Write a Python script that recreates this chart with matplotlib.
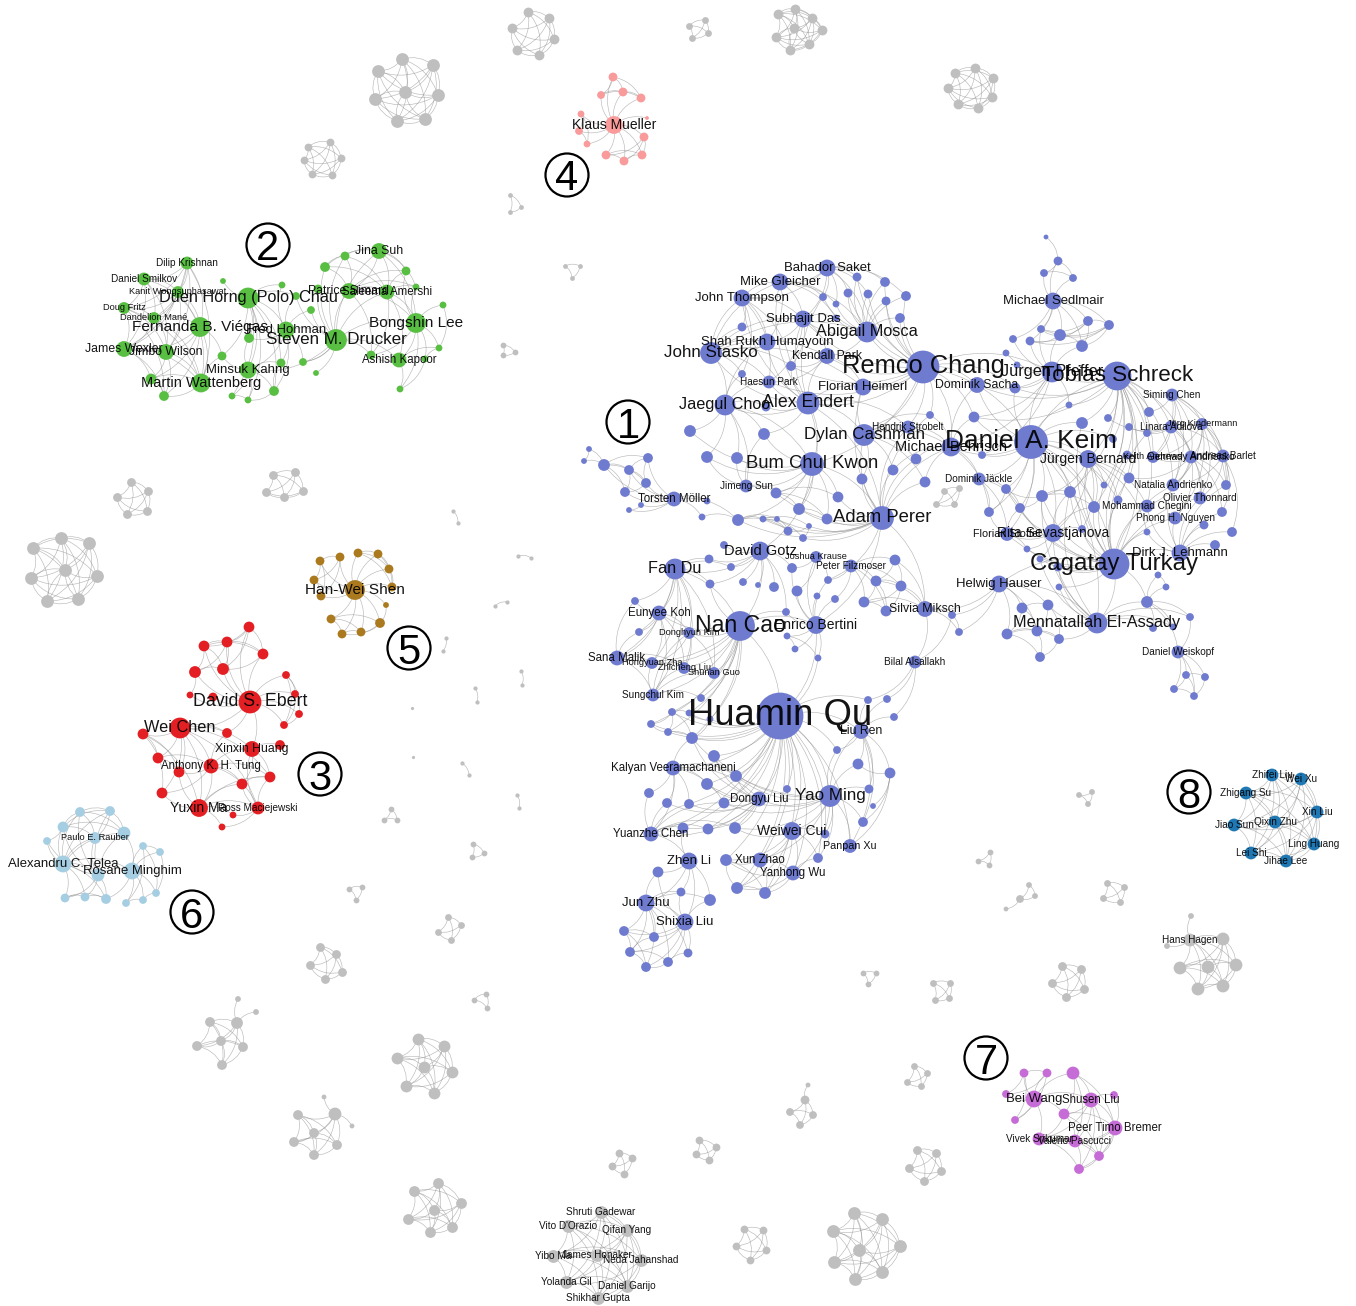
#!/usr/bin/env python3
"""Co-authorship network with numbered communities."""

from itertools import combinations

import matplotlib
matplotlib.use('Agg')
import matplotlib.pyplot as plt
from matplotlib.collections import PathCollection
from matplotlib.patches import Circle
from matplotlib.path import Path

plt.rcParams['font.family'] = ['Liberation Sans', 'DejaVu Sans']

MAIN = '#6f7bcf'
GRAY = '#bfbfbf'

# community 1, split in neighbourhoods
top_x = [827, 780, 742, 803, 867, 767, 711, 827, 923, 769, 863, 725, 808, 864, 908, 812, 746, 882,
         857, 885, 848, 868, 823, 836, 886, 906, 900, 836, 742, 791, 742, 766, 690, 764, 707, 737,
         930, 916, 893, 862, 925, 776, 838, 799, 827, 738]
top_y = [268, 282, 298, 319, 332, 342, 353, 356, 367, 382, 387, 405, 403, 435, 427, 464, 486, 518,
         277, 282, 293, 294, 297, 304, 301, 296, 318, 318, 327, 366, 374, 407, 431, 434, 457, 458,
         415, 459, 470, 479, 482, 493, 497, 509, 519, 520]
top_r = [8, 8, 8, 8, 10, 8, 10.5, 7.5, 16, 6, 8, 10, 11, 10.5, 6, 11.5, 6, 11.5,
         4, 4.5, 4, 4, 3.5, 3, 4, 4.5, 4.5, 3, 4, 4.5, 3.5, 4, 5.5, 5.5, 5.5, 5.5,
         3.5, 5, 5, 5, 5, 5, 5, 5.5, 5, 5.5]
top_names = {0: 'Bahador Saket', 1: 'Mike Gleicher', 2: 'John Thompson', 3: 'Subhajit Das',
             4: 'Abigail Mosca', 5: 'Shah Rukh Humayoun', 6: 'John Stasko', 7: 'Kendall Park',
             8: 'Remco Chang', 9: 'Haesun Park', 10: 'Florian Heimerl', 11: 'Jaegul Choo',
             12: 'Alex Endert', 13: 'Dylan Cashman', 14: 'Hendrik Strobelt', 15: 'Bum Chul Kwon',
             16: 'Jimeng Sun', 17: 'Adam Perer'}
top_links = {8: [4, 7, 10, 12, 13, 14, 19, 21, 24, 25, 26, 20, 18, 3, 29, 9, 36, 15],
             12: [1, 2, 3, 5, 6, 7, 9, 10, 11, 13, 15, 29, 31, 33, 14, 17, 43, 22],
             6: [1, 2, 3, 5, 9, 10, 28, 29, 30, 11, 7, 4],
             0: [1, 2, 3, 4, 22, 23, 18, 20, 25, 19, 21],
             4: [3, 7, 18, 19, 20, 21, 22, 24, 25, 26, 23, 27],
             2: [1, 3, 5, 28, 29, 30, 9],
             1: [3, 4, 5, 22, 23, 27],
             11: [32, 33, 34, 35, 15, 9, 31, 30, 5, 16],
             15: [32, 33, 34, 35, 41, 42, 43, 16, 44, 17, 45],
             17: [13, 37, 38, 39, 40, 41, 42, 43, 44, 45, 14, 36, 10],
             13: [10, 14, 36, 37, 38, 39, 40],
             16: [33, 34, 35, 41],
             41: [43, 44, 42],
             43: [44],
             3: [5, 7, 27, 29, 9],
             7: [29, 10, 9]}

dak_x = [1031, 1117, 1114, 951, 1052, 977, 1015, 1069, 974, 1172, 1149, 1082, 1108, 1129, 1147, 1171,
         1202, 1113, 982, 1088, 1153, 1191, 1223, 1129, 1104, 1173, 1226, 979, 1006, 1042, 1070, 1200,
         1147, 1118, 1094, 989, 1020, 1175, 1222, 1204, 1232, 1147, 1007, 1053, 1082, 1215, 1027, 1180,
         1040, 1058, 1097, 1059, 1158, 1166, 1147, 1190, 1153, 1173, 1127]
dak_y = [442, 376, 564, 447, 372, 385, 388, 405, 417, 395, 412, 423, 418, 427, 433, 427,
         424, 439, 455, 459, 457, 457, 456, 478, 485, 485, 485, 479, 489, 496, 492, 498,
         506, 500, 507, 512, 508, 518, 512, 525, 532, 532, 534, 533, 529, 545, 549, 553,
         559, 567, 623, 587, 575, 587, 602, 617, 628, 627, 455]
dak_r = [16.5, 14, 15, 9, 10, 7.5, 5, 3, 5, 6, 4.5, 5.5, 3.5, 3.5, 3.5, 6,
         5.5, 3.5, 3.5, 8.5, 5.5, 6, 6, 5, 3, 6, 4.5, 6, 4.5, 5.5, 5.5, 6,
         6, 4, 5.5, 4.5, 4.5, 6, 4.5, 4, 4.5, 3, 6.5, 8.5, 3.5, 4.5, 3, 8,
         3, 4, 10, 3, 3, 3, 5.5, 3.5, 3.5, 3, 4]
dak_names = {0: 'Daniel A. Keim', 1: 'Tobias Schreck', 2: 'Cagatay Turkay', 3: 'Michael Behrisch',
             4: 'Jürgen Pfeffer', 5: 'Dominik Sacha', 9: 'Siming Chen', 15: 'Linara Adilova',
             16: 'Jörg Kindermann', 19: 'Jürgen Bernard', 20: 'Keith Andrews', 21: 'Gennady Andrienko',
             22: 'Andreas Barlet', 25: 'Natalia Andrienko', 27: 'Dominik Jäckle', 31: 'Olivier Thonnard',
             32: 'Mohammad Chegini', 37: 'Phong H. Nguyen', 42: 'Florian Stoffel', 43: 'Rita Sevastjanova',
             47: 'Dirk J. Lehmann', 50: 'Mennatallah El-Assady'}
dak_links = {0: [1, 2, 3, 4, 5, 6, 8, 18, 19, 27, 28, 29, 30, 34, 33, 35, 36, 42, 43, 44, 11, 17, 24, 7, 50],
             1: [2, 4, 5, 6, 7, 8, 11, 12, 10, 14, 15, 19, 20, 21, 23, 25, 32, 30, 34, 17, 33, 24, 58],
             2: [19, 23, 24, 29, 30, 32, 33, 34, 37, 41, 42, 43, 44, 47, 46, 48, 49, 50, 51, 25, 31, 36, 28, 11, 54, 14, 58],
             4: [5, 6, 7, 8, 3, 18],
             3: [5, 8, 18, 27, 35],
             9: [10, 15, 16, 20, 21, 22, 25, 26],
             16: [20, 21, 22, 25, 26, 15, 31, 37],
             15: [20, 21, 22, 25, 31, 13, 12, 14],
             19: [23, 24, 29, 30, 33, 34, 43, 44, 32, 41],
             21: [22, 25, 31, 32, 37, 23, 20, 26, 38],
             47: [37, 38, 39, 40, 45, 31, 25, 26, 32, 41],
             22: [26, 31, 38, 40, 25],
             43: [29, 30, 34, 36, 42, 44, 46, 48],
             50: [49, 51, 54, 48, 55, 56, 57, 43, 29, 30],
             54: [52, 53, 55, 56, 57],
             52: [53],
             29: [30, 34, 28, 36],
             27: [28, 35, 36, 42],
             28: [35, 36],
             42: [35, 36, 46]}

sed_x = [1053, 1046, 1058, 1044, 1073, 1088, 1109, 1041, 1013, 1030, 1060, 1082, 1006, 1017]
sed_y = [301, 237, 261, 273, 278, 321, 325, 329, 339, 341, 335, 346, 353, 365]
sed_r = [8, 2, 4, 3.5, 3.5, 4.5, 4.5, 3.5, 3.5, 4, 5.5, 5.5, 3, 3]
sed_names = {0: 'Michael Sedlmair'}
sed_links = {0: [2, 3, 4, 5, 6, 7, 8, 9, 10, 11], 1: [2], 2: [3, 4], 3: [4],
             5: [6, 10, 9, 7, 11], 6: [10, 11, 9, 7], 10: [9, 11, 7]}

tail_x = [674, 589, 584, 604, 629, 648, 646, 625, 707, 641, 629, 702]
tail_y = [499, 449, 461, 465, 470, 458, 483, 492, 501, 505, 510, 517]
tail_r = [7, 2.5, 2.5, 5.5, 4.5, 4.5, 4.5, 4.5, 3, 2.5, 2.5, 3]
tail_names = {0: 'Torsten Möller'}
tail_links = {0: [3, 4, 5, 6, 7, 8, 9, 10, 11], 1: [2, 3], 2: [3], 3: [4, 5, 6, 7],
              4: [5, 6, 7], 6: [5, 7], 9: [10]}

mid_x = [760, 724, 709, 675, 731, 743, 710, 758, 774, 816, 792, 851, 895, 828, 797, 817, 835, 876, 901,
         864, 886, 925, 952, 959, 635, 659, 786, 740, 816, 639, 689, 787, 795, 818, 617, 652, 684, 714,
         653, 701, 915, 763, 777, 809, 788, 803]
mid_y = [551, 545, 559, 569, 567, 582, 584, 585, 587, 557, 568, 566, 560, 580, 591, 596, 599, 581, 586,
         602, 611, 609, 615, 632, 601, 613, 612, 626, 625, 632, 633, 636, 649, 658, 658, 663, 668, 673,
         695, 698, 662, 519, 519, 526, 531, 538]
mid_r = [9, 3.5, 4, 10, 3.5, 3.5, 4, 2.5, 4.5, 5.5, 4.5, 6, 5, 3.5, 5, 3, 3.5, 5, 5,
         5, 5, 7.5, 3.5, 3.5, 3.5, 7, 3.5, 14.5, 8.5, 3.5, 5.5, 3, 3, 3, 7, 5.5, 5.5, 5.5,
         6, 3.5, 6, 3, 2.5, 2.5, 4, 3.5]
mid_names = {0: 'David Gotz', 3: 'Fan Du', 9: 'Joshua Krause', 11: 'Peter Filzmoser', 21: 'Silvia Miksch',
             25: 'Eunyee Koh', 27: 'Nan Cao', 28: 'Enrico Bertini', 30: 'Donghyun Kim', 34: 'Sana Malik',
             35: 'Hongyuan Zha', 36: 'Zhicheng Liu', 37: 'Shunan Guo', 38: 'Sungchul Kim', 40: 'Bilal Alsallakh'}
mid_links = {0: [1, 2, 4, 5, 6, 7, 8, 3, 26, 27, 10],
             3: [2, 24, 25, 29, 30, 34, 35, 36, 37, 38, 27, 6, 4],
             27: [25, 30, 34, 35, 36, 37, 38, 39, 26, 6, 28],
             25: [24, 29, 30, 34, 35, 36, 38],
             34: [29, 35, 36, 38, 24],
             38: [35, 36, 37, 39, 30],
             30: [35, 36, 37],
             28: [9, 10, 13, 14, 15, 16, 31, 32, 33, 26],
             9: [10, 13, 14],
             11: [12, 17, 18, 19, 20, 13, 16],
             12: [17, 18, 21],
             17: [18, 19, 20, 21],
             18: [19, 20, 21],
             19: [20, 21],
             20: [21],
             21: [22, 23, 40],
             22: [40, 23],
             31: [32, 33],
             41: [42, 43, 44, 45],
             43: [44, 45],
             42: [44]}

low_x = [780, 868, 887, 894, 672, 689, 710, 651, 668, 861, 692, 837, 714, 858, 890, 673, 736, 707, 787,
         869, 649, 873, 830, 759, 667, 689, 724, 863, 683, 708, 735, 792, 825, 651, 850, 689, 726, 760,
         818, 658, 793, 681, 737, 765, 710, 646, 685, 624, 654, 630, 688, 668, 646]
low_y = [716, 700, 699, 717, 712, 713, 719, 724, 732, 731, 738, 750, 756, 764, 773, 768, 776, 784, 789,
         789, 793, 806, 796, 799, 803, 804, 803, 822, 828, 829, 828, 831, 834, 834, 846, 861, 860, 860,
         858, 872, 873, 892, 888, 893, 900, 903, 922, 931, 937, 952, 953, 962, 967]
low_r = [23, 3.5, 3.5, 3.5, 3.5, 3, 3, 3.5, 3.5, 7.5, 5.5, 3.5, 5.5, 5, 5, 7, 5.5, 5.5, 3.5,
         4, 4.5, 2.5, 10.5, 7, 4.5, 4.5, 5, 4.5, 5, 5, 5.5, 8.5, 4, 7, 6.5, 8, 5.5, 7,
         4.5, 5, 7, 4, 5.5, 5.5, 5.5, 8, 8, 4.5, 4.5, 4.5, 4, 4.5, 4.5]
low_names = {0: 'Huamin Qu', 9: 'Liu Ren', 15: 'Kalyan Veeramachaneni', 22: 'Yao Ming', 23: 'Dongyu Liu',
             31: 'Weiwei Cui', 33: 'Yuanzhe Chen', 34: 'Panpan Xu', 35: 'Zhen Li', 37: 'Xun Zhao',
             40: 'Yanhong Wu', 45: 'Jun Zhu', 46: 'Shixia Liu'}
low_links = {0: [4, 5, 6, 7, 8, 10, 12, 15, 16, 17, 18, 22, 23, 26, 29, 30, 31, 32, 11, 9, 37, 40, 28, 25,
                 36, 43, 38, 33, 1, 34, 42],
             22: [9, 11, 13, 19, 23, 27, 31, 32, 34, 38, 37, 40, 26, 30, 12, 10, 16, 17],
             9: [1, 2, 3, 11, 13, 14, 19, 27, 34],
             14: [13, 27, 34, 21],
             15: [10, 16, 17, 20, 24, 25, 26, 33, 23],
             23: [10, 12, 16, 17, 26, 25, 24, 28, 29, 30, 33],
             33: [20, 24, 25, 26, 28, 29, 30, 35],
             31: [37, 38, 40, 42, 43, 36, 30, 32],
             37: [36, 40, 42, 43],
             40: [36, 38, 42, 43],
             42: [36, 43],
             36: [43],
             35: [39, 41, 44, 28, 45, 46],
             45: [39, 41, 44, 46, 47, 48, 49, 50, 51, 52],
             46: [39, 41, 44, 47, 48, 49, 50, 51, 52],
             47: [48, 49, 52],
             49: [51, 52, 48],
             51: [52, 50],
             4: [5, 7, 8, 10],
             8: [10, 7],
             6: [10, 5]}

hh_x = [999, 1022, 1048, 1007, 1037, 1059, 1040]
hh_y = [584, 608, 605, 634, 631, 639, 657]
hh_r = [8, 5, 5, 5, 5, 4.5, 4.5]
hh_names = {0: 'Helwig Hauser'}
hh_links = {0: [1, 2, 3, 4], 1: [2, 3, 4], 2: [4, 5], 3: [4, 5, 6], 4: [5, 6], 5: [6]}

dw_x = [1178, 1186, 1205, 1174, 1194]
dw_y = [652, 675, 677, 689, 696]
dw_r = [6, 3.5, 3.5, 3.5, 3.5]
dw_names = {0: 'Daniel Weiskopf'}
dw_links = {0: [1, 2, 3, 4], 1: [2, 3, 4], 2: [4], 3: [4]}

cross_links = [('top', 8, 'dak', 0), ('top', 8, 'dak', 3), ('top', 8, 'dak', 4), ('top', 8, 'dak', 5),
               ('top', 8, 'dak', 6), ('top', 8, 'dak', 8), ('top', 13, 'dak', 3), ('top', 14, 'dak', 3),
               ('top', 36, 'dak', 3), ('top', 37, 'dak', 3), ('top', 38, 'dak', 3), ('top', 40, 'dak', 3),
               ('top', 17, 'dak', 3), ('tail', 0, 'top', 45), ('tail', 11, 'top', 45),
               ('top', 45, 'mid', 41), ('top', 45, 'mid', 42), ('top', 45, 'mid', 44), ('top', 17, 'mid', 41),
               ('top', 17, 'mid', 42), ('top', 17, 'mid', 43), ('top', 17, 'mid', 45), ('top', 17, 'mid', 13),
               ('top', 17, 'mid', 28), ('top', 15, 'mid', 0), ('top', 17, 'mid', 21),
               ('dak', 4, 'sed', 7), ('dak', 4, 'sed', 8), ('dak', 4, 'sed', 9), ('dak', 4, 'sed', 10),
               ('dak', 4, 'sed', 11), ('dak', 4, 'sed', 12), ('dak', 4, 'sed', 13),
               ('mid', 27, 'low', 0), ('mid', 28, 'low', 0), ('mid', 33, 'low', 0), ('mid', 40, 'low', 1),
               ('mid', 40, 'low', 2), ('mid', 40, 'low', 3), ('mid', 27, 'low', 4), ('mid', 27, 'low', 5),
               ('mid', 27, 'low', 6), ('mid', 27, 'low', 7), ('mid', 27, 'low', 8), ('mid', 27, 'low', 10),
               ('hh', 0, 'mid', 21), ('hh', 0, 'mid', 22), ('hh', 0, 'mid', 23), ('hh', 0, 'dak', 2),
               ('hh', 0, 'dak', 50), ('dak', 50, 'hh', 2), ('dak', 50, 'hh', 5), ('dak', 54, 'dw', 0),
               ('dak', 55, 'dw', 0)]

# community 2
green_x = [187, 144, 178, 124, 154, 200, 124, 166, 151, 201, 164, 223, 282, 248, 296, 311, 286, 249, 336,
           222, 281, 303, 316, 248, 232, 248, 274, 345, 325, 379, 406, 416, 318, 349, 387, 443, 416, 439,
           399, 371, 425, 400]
green_y = [263, 279, 292, 308, 318, 327, 349, 352, 379, 383, 396, 281, 285, 298, 296, 310, 330, 338, 340,
           356, 363, 362, 373, 370, 396, 400, 391, 256, 267, 251, 271, 287, 289, 291, 292, 305, 323, 348,
           360, 355, 359, 389]
green_r = [6, 6, 5.5, 5.5, 5.5, 9.5, 7.5, 7.5, 5, 9, 4.5, 2.5, 3, 10, 3.5, 3.5, 8, 4.5, 10.5,
           4, 4, 3.5, 2.5, 8, 3, 3, 4.5, 4, 4.5, 7.5, 4, 3, 4, 7.5, 7, 3, 9.5, 3,
           7, 4, 3, 3]
green_names = {0: 'Dilip Krishnan', 1: 'Daniel Smilkov', 2: 'Kanit Wongsuphasawat', 3: 'Doug Fritz',
               4: 'Dandelion Mané', 5: 'Fernanda B. Viégas', 6: 'James Wexler', 7: 'Jimbo Wilson',
               9: 'Martin Wattenberg', 13: 'Duen Horng (Polo) Chau', 16: 'Fred Hohman',
               18: 'Steven M. Drucker', 23: 'Minsuk Kahng', 29: 'Jina Suh', 33: 'Patrice Simard',
               34: 'Saleema Amershi', 36: 'Bongshin Lee', 38: 'Ashish Kapoor'}
green_links = {0: [1, 2, 3, 4, 5, 6, 7, 9], 1: [2, 3, 4, 5, 6, 7], 2: [3, 4, 5, 6, 7, 9], 3: [4, 6, 7, 9, 10],
               4: [5, 6, 7, 9], 5: [6, 7, 8, 9, 10, 19], 6: [7, 8, 9, 10], 7: [8, 9, 10], 8: [9, 10], 9: [10, 19],
               13: [11, 12, 14, 16, 17, 19, 20, 23, 24, 25, 26], 16: [12, 14, 15, 17, 18, 20, 21, 23, 26],
               18: [14, 15, 21, 22, 27, 28, 32, 33, 34, 36, 38, 39, 29, 23, 21],
               23: [17, 19, 20, 24, 25, 26], 26: [20, 25], 24: [25], 28: [27, 33, 29, 34], 27: [29, 33, 34],
               29: [30, 31, 33, 34, 36], 33: [30, 31, 32, 34, 36, 39], 34: [30, 31, 36, 38, 39],
               36: [30, 31, 35, 37, 38, 39, 40, 41], 38: [37, 39, 40, 41], 40: [41, 37], 35: [37]}

# community 3
red_x = [249, 204, 227, 263, 195, 223, 286, 190, 213, 295, 250, 299, 284, 180, 143, 227, 280, 252, 158, 211,
         179, 270, 242, 162, 199, 258, 233, 222]
red_y = [627, 646, 642, 654, 672, 669, 675, 695, 697, 694, 702, 714, 725, 728, 734, 733, 745, 749, 758, 766,
         772, 777, 784, 793, 808, 808, 815, 827]
red_r = [5, 5, 5, 5, 5.5, 5.5, 3.5, 3, 4, 3.5, 11, 3.5, 3.5, 10, 5, 4.5, 4.5, 7.5, 5, 7, 5, 5, 5, 5, 8.5, 6, 3, 3]
red_names = {10: 'David S. Ebert', 13: 'Wei Chen', 17: 'Xinxin Huang', 19: 'Anthony K. H. Tung',
             24: 'Yuxin Ma', 25: 'Ross Maciejewski'}
red_links = {10: [0, 1, 2, 3, 4, 5, 6, 7, 8, 9, 11, 12, 15, 17, 13], 0: [1, 2, 3, 5], 1: [2, 3, 4, 5],
             2: [3, 4, 5], 3: [5], 4: [5, 7], 6: [9, 12, 11], 9: [12], 11: [12],
             13: [14, 15, 17, 18, 19, 20, 21, 23, 24, 25], 14: [18, 20, 23, 24], 18: [20, 19],
             19: [17, 20, 21, 22, 23, 24, 25, 15], 24: [20, 21, 22, 23, 25, 26, 27], 25: [21, 22, 26, 27, 17],
             17: [16, 21, 22], 22: [21]}

# community 4
pink_x = [613, 601, 623, 641, 581, 647, 614, 579, 644, 587, 606, 624, 642]
pink_y = [77, 95, 92, 98, 114, 118, 125, 131, 137, 144, 155, 161, 155]
pink_r = [4, 3.5, 4, 4, 3, 1.5, 8.5, 3.5, 4, 3, 4, 4, 4]
pink_names = {6: 'Klaus Mueller'}
pink_links = {6: [0, 1, 2, 3, 4, 5, 7, 8, 9, 10, 11, 12], 0: [1, 2, 3], 1: [2, 3], 2: [3], 4: [7, 9], 7: [9],
              8: [10, 11, 12], 10: [11, 12], 11: [12]}

# community 5
brown_x = [320, 340, 358, 378, 389, 314, 392, 321, 355, 386, 331, 380, 342, 361]
brown_y = [561, 557, 553, 554, 569, 580, 587, 596, 590, 605, 619, 623, 634, 632]
brown_r = [4, 4, 4, 4, 4, 4, 4, 4, 9.5, 2.5, 4, 4.5, 4, 4]
brown_names = {8: 'Han-Wei Shen'}
brown_links = {8: [0, 1, 2, 3, 4, 5, 6, 7, 9, 10, 11, 12, 13], 0: [1, 5, 7], 1: [5, 7], 5: [7],
               2: [3, 4, 6], 3: [4, 6], 4: [6], 10: [11, 12, 13], 11: [12, 13], 12: [13], 9: [11]}

# community 6
ltblue_x = [80, 110, 63, 124, 95, 47, 143, 160, 63, 98, 132, 156, 65, 85, 106, 126, 143]
ltblue_y = [812, 811, 827, 833, 838, 841, 846, 852, 864, 875, 871, 893, 898, 897, 899, 903, 900]
ltblue_r = [4.5, 4.5, 5, 6, 5.5, 3.5, 3.5, 3.5, 8, 6, 8, 3.5, 4, 4, 4.5, 3.5, 3.5]
ltblue_names = {4: 'Paulo E. Rauber', 8: 'Alexandru C. Telea', 10: 'Rosane Minghim'}
ltblue_links = {8: [0, 1, 2, 3, 4, 5, 9, 10, 12, 13, 14], 9: [0, 1, 2, 3, 4, 5, 10, 12, 13, 14],
                2: [0, 1, 3, 4, 5], 0: [1, 3, 4], 1: [3, 4], 3: [4, 10], 10: [6, 7, 11, 15, 16, 14],
                6: [7, 11, 15], 7: [11], 15: [16], 16: [11], 12: [13, 14], 13: [14]}

# community 7
purple_x = [1024, 1047, 1073, 1006, 1034, 1091, 1114, 1064, 1015, 1115, 1039, 1075, 1099, 1079]
purple_y = [1073, 1073, 1073, 1094, 1099, 1100, 1095, 1114, 1120, 1128, 1139, 1141, 1156, 1169]
purple_r = [4, 4, 6, 3.5, 8, 7, 3.5, 5, 3.5, 7, 6, 6, 4.5, 4.5]
purple_names = {4: 'Bei Wang', 5: 'Shusen Liu', 9: 'Peer Timo Bremer', 10: 'Vivek Srikumar',
                11: 'Valerio Pascucci'}
purple_links = {4: [0, 1, 3, 8, 5, 7, 10, 2], 0: [1, 3, 8], 1: [3, 8], 2: [5, 9, 7, 11],
                5: [6, 7, 9, 10, 11, 12, 13], 6: [9], 7: [9, 10, 11, 12], 9: [10, 11, 12, 13],
                10: [11, 12, 13], 11: [12, 13], 12: [13]}

# community 8
blue_x = [1272, 1301, 1246, 1317, 1275, 1234, 1314, 1251, 1286]
blue_y = [775, 779, 793, 812, 822, 825, 844, 853, 861]
blue_r = [6, 6, 6, 6, 6, 6, 6, 6, 6]
blue_names = {0: 'Zhifei Liu', 1: 'Wei Xu', 2: 'Zhigang Su', 3: 'Xin Liu', 4: 'Qixin Zhu', 5: 'Jiao Sun',
              6: 'Ling Huang', 7: 'Lei Shi', 8: 'Jihae Lee'}
blue_links = {i: list(range(i + 1, 9)) for i in range(8)}

# the small grey components, all pairs linked unless listed as a leaf
gray_x = [[528, 549, 554, 539, 517, 512], [402, 433, 438, 425, 397, 375, 378, 405], [689, 705, 708, 692],
          [778, 795, 812, 822, 809, 790, 776, 794], [955, 975, 993, 992, 978, 958, 948],
          [308, 330, 341, 332, 312, 304], [510, 521, 510], [565, 580, 572], [503, 515, 503],
          [131, 148, 147, 127, 117], [273, 295, 303, 284, 266], [33, 61, 89, 97, 78, 47, 31, 65],
          [944, 959, 954, 936], [453, 458], [518, 531], [495, 507], [446, 443], [521, 522], [475, 477],
          [412], [413], [462, 469], [517, 519], [391, 384, 397], [473, 484, 472], [349, 362, 356],
          [448, 461, 451, 438], [320, 336, 342, 325, 310], [474, 486, 487],
          [238, 256, 210, 237, 221, 197, 243, 222], [418, 444, 397, 424, 452, 406, 434],
          [324, 352, 335, 298, 314, 294, 337, 314], [438, 414, 461, 434, 408, 452, 430],
          [1092, 1079, 1088], [990, 978, 989], [1029, 1035, 1020, 1006], [1107, 1124, 1120, 1103],
          [1191, 1167, 1190, 1223, 1180, 1208, 1236, 1198, 1223], [1062, 1081, 1084, 1066, 1052],
          [863, 876, 868], [933, 950, 949, 935], [914, 927, 921, 907], [808, 805, 790, 813, 800],
          [699, 716, 709, 696], [619, 632, 624, 612], [917, 936, 941, 924, 909],
          [601, 568, 627, 553, 597, 641, 566, 627, 598], [744, 763, 766, 750, 736],
          [854, 882, 833, 900, 859, 834, 882, 855]]
gray_y = [[12, 18, 39, 55, 50, 28], [59, 65, 95, 119, 121, 99, 71, 92], [26, 20, 33, 38],
          [14, 9, 18, 30, 44, 50, 37, 28], [73, 68, 78, 97, 108, 104, 88],
          [147, 142, 158, 175, 174, 160], [195, 207, 212], [266, 266, 278], [345, 352, 355],
          [482, 491, 511, 514, 497], [475, 472, 491, 497, 492], [548, 538, 543, 576, 599, 601, 578, 570],
          [491, 488, 504, 504], [511, 523], [556, 558], [606, 602], [638, 651], [671, 685], [688, 702],
          [708], [757], [763, 775], [795, 808], [809, 820, 820], [844, 853, 857], [889, 887, 900],
          [917, 925, 940, 932], [947, 954, 972, 979, 965], [1000, 994, 1008],
          [999, 1012, 1022, 1023, 1041, 1046, 1047, 1065], [1039, 1046, 1058, 1067, 1072, 1086, 1093],
          [1097, 1126, 1114, 1115, 1133, 1142, 1145, 1155], [1183, 1191, 1203, 1210, 1219, 1227, 1232],
          [792, 795, 804], [852, 861, 865], [885, 896, 899, 909], [883, 887, 902, 898],
          [916, 946, 940, 939, 968, 967, 965, 989, 986], [966, 969, 989, 997, 983],
          [973, 973, 984], [983, 983, 998, 1000], [1066, 1073, 1086, 1082], [1085, 1100, 1112, 1115, 1125],
          [1140, 1147, 1160, 1154], [1153, 1158, 1174, 1166], [1150, 1153, 1171, 1181, 1168],
          [1212, 1226, 1230, 1256, 1255, 1260, 1282, 1286, 1298], [1229, 1230, 1250, 1260, 1246],
          [1213, 1219, 1231, 1246, 1250, 1262, 1272, 1279]]
gray_r = [4.5, 6, 3, 4.5, 4.5, 3.5, 2, 2, 2.5, 4, 4, 6, 3, 1.7, 1.7, 1.7, 1.7, 1.7, 1.7, 1.2, 1.2, 1.7, 1.7,
          2.5, 2.5, 2.5, 3, 4, 2.5, [2.5, 2.5, 4.5, 5.5, 4.5, 4.5, 4.5, 4.5], 5.5,
          [2, 2, 6, 4.5, 4.5, 4.5, 4.5, 4.5], 5, [2.5, 2.5, 2.5], 2.5, [2.5, 2.5, 3.5, 2], 3,
          [2.5, 2.5, 6, 6, 6, 6, 6, 6, 6], 4, 2.5, 3, 3, [2, 4, 3.5, 3.5, 3.5], 3.5, 3.5, 4,
          6, 3.5, 6]
gray_leaves = {29: {0: 3, 1: 3}, 31: {0: 2, 1: 2}, 35: {3: 2}, 37: {0: 2, 1: 2}, 42: {0: 1}}
gray_names = {(37, 2): 'Hans Hagen', (46, 0): 'Shruti Gadewar', (46, 1): "Vito D'Orazio", (46, 2): 'Qifan Yang',
              (46, 3): 'Yibo Ma', (46, 4): 'James Honaker', (46, 5): 'Neda Jahanshad', (46, 6): 'Yolanda Gil',
              (46, 7): 'Daniel Garijo', (46, 8): 'Shikhar Gupta'}

badge_text = ['1', '2', '3', '4', '5', '6', '7', '8']
badge_x = [628, 268, 320, 567, 409, 192, 986, 1189]
badge_y = [422, 245, 774, 175, 648, 912, 1058, 792]

groups = {'top': (top_x, top_y, top_r, top_links, top_names, MAIN),
          'dak': (dak_x, dak_y, dak_r, dak_links, dak_names, MAIN),
          'sed': (sed_x, sed_y, sed_r, sed_links, sed_names, MAIN),
          'tail': (tail_x, tail_y, tail_r, tail_links, tail_names, MAIN),
          'mid': (mid_x, mid_y, mid_r, mid_links, mid_names, MAIN),
          'low': (low_x, low_y, low_r, low_links, low_names, MAIN),
          'hh': (hh_x, hh_y, hh_r, hh_links, hh_names, MAIN),
          'dw': (dw_x, dw_y, dw_r, dw_links, dw_names, MAIN),
          'green': (green_x, green_y, green_r, green_links, green_names, '#58bf43'),
          'red': (red_x, red_y, red_r, red_links, red_names, '#e41f23'),
          'pink': (pink_x, pink_y, pink_r, pink_links, pink_names, '#f99a9b'),
          'brown': (brown_x, brown_y, brown_r, brown_links, brown_names, '#ab7a1f'),
          'ltblue': (ltblue_x, ltblue_y, ltblue_r, ltblue_links, ltblue_names, '#a6cee3'),
          'purple': (purple_x, purple_y, purple_r, purple_links, purple_names, '#c66cd6'),
          'blue': (blue_x, blue_y, blue_r, blue_links, blue_names, '#1f78b4')}


def arc(x0, y0, x1, y1, bend=0.25):
    # edges bow to one side, like the layout tool draws them
    cx = (x0 + x1) / 2 + bend * (y1 - y0)
    cy = (y0 + y1) / 2 - bend * (x1 - x0)
    return Path([(x0, y0), (cx, cy), (x1, y1)], [Path.MOVETO, Path.CURVE3, Path.CURVE3])


def area(r):
    # radius in px to scatter area in pt^2, a bit larger for the soft edges of the original
    return (2 * (r + 0.4) * 0.72) ** 2


def label(ax, x, y, name, r):
    size_px = 1.55 * r + 0.7
    ax.text(x, y - 0.02 * size_px, name, ha='center', va='center', fontsize=size_px * 0.72,
            color='black', alpha=0.92, zorder=5)


fig = plt.figure(figsize=(13.56, 13.06), dpi=100)
ax = fig.add_axes([0, 0, 1, 1])
ax.set_xlim(0, 1356)
ax.set_ylim(1306, 0)
ax.axis('off')

edges = []
for x, y, r, links, names, color in groups.values():
    for a, others in links.items():
        for b in others:
            edges.append(arc(x[a], y[a], x[b], y[b]))
for g0, a, g1, b in cross_links:
    edges.append(arc(groups[g0][0][a], groups[g0][1][a], groups[g1][0][b], groups[g1][1][b]))

for c, (xs, ys) in enumerate(zip(gray_x, gray_y)):
    leaves = gray_leaves.get(c, {})
    core = [i for i in range(len(xs)) if i not in leaves]
    for a, b in combinations(core, 2):
        edges.append(arc(xs[a], ys[a], xs[b], ys[b]))
    for a, b in leaves.items():
        edges.append(arc(xs[b], ys[b], xs[a], ys[a]))

ax.add_collection(PathCollection(edges, facecolors='none', edgecolors='#8a8a8a', linewidths=0.45,
                                 alpha=0.6, zorder=1))

for x, y, r, links, names, color in groups.values():
    ax.scatter(x, y, s=[area(v) for v in r], c=color, linewidths=0, zorder=2)
for xs, ys, r in zip(gray_x, gray_y, gray_r):
    sizes = [area(v) for v in r] if isinstance(r, list) else area(r)
    ax.scatter(xs, ys, s=sizes, c=GRAY, linewidths=0, zorder=2)

for x, y, r, links, names, color in groups.values():
    for i, name in names.items():
        label(ax, x[i], y[i], name, r[i])
for (c, i), name in gray_names.items():
    r = gray_r[c][i] if isinstance(gray_r[c], list) else gray_r[c]
    label(ax, gray_x[c][i], gray_y[c][i], name, r)

for t, x, y in zip(badge_text, badge_x, badge_y):
    ax.add_patch(Circle((x, y), 21.5, fc='none', ec='black', lw=1.6, zorder=6))
    ax.text(x, y, t, ha='center', va='center_baseline', fontsize=30, color='black', zorder=6)

fig.savefig('out.png', dpi=100)
plt.close(fig)
